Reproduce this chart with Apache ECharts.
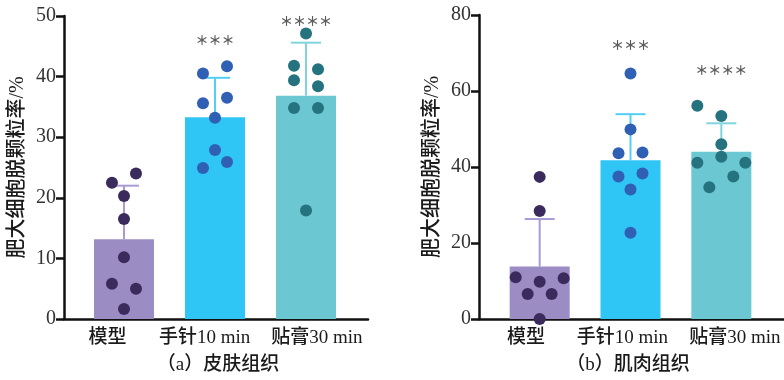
<!DOCTYPE html>
<html>
<head>
<meta charset="utf-8">
<script src="https://cdn.jsdelivr.net/npm/echarts@6/dist/echarts.min.js"></script>
<style>html,body{margin:0;padding:0;background:#fff}#c{width:784px;height:380px}</style>
</head>
<body>
<div id="c"></div>
<script>
// ---- data ----
const categories = ['模型', '手针10 min', '贴膏30 min'];
const panelTitles = ['（a）皮肤组织', '（b）肌肉组织'];
const yName = '肥大细胞脱颗粒率/%';

// panel a: skin
const meanA = [13.15, 33.3, 36.85];
const sdA = [8.85, 6.5, 8.75];
const ptsA_model = [22.5, 24.0, 20.3, 16.5, 10.2, 5.8, 5.0, 1.65];
const jitA_model = [-1, 1, 0, 0, 0, -1, 1, 0];
const ptsA_hand = [40.5, 41.7, 35.6, 36.5, 33.2, 27.9, 24.9, 25.9];
const jitA_hand = [-1, 1, -1, 1, 0, 0, -1, 1];
const ptsA_paste = [47.1, 41.8, 41.2, 39.4, 38.4, 34.8, 34.8, 17.9];
const jitA_paste = [0, -1, 1, -1, 1, -1, 1, 0];
const starsA = ['', '＊＊＊', '＊＊＊＊'];
const starYA = [null, 46.0, 49.2];

// panel b: muscle
const meanB = [13.8, 41.8, 44.0];
const sdB = [12.5, 12.1, 7.5];
const ptsB_model = [37.4, 28.4, 11.0, 10.7, 9.8, 6.6, 6.6, 0.0];
const jitB_model = [0, 0, -2, 2, 0, -1, 1, 0];
const ptsB_hand = [64.6, 49.9, 43.6, 43.8, 37.5, 38.3, 34.1, 22.7];
const jitB_hand = [0, 0, -1, 1, -1, 1, 0, 0];
const ptsB_paste = [56.1, 53.4, 46.0, 41.1, 42.7, 41.1, 37.5, 34.7];
const jitB_paste = [-2, 0, 0, -2, 0, 2, 1, -1];
const starsB = ['', '＊＊＊', '＊＊＊＊'];
const starYB = [null, 72.1, 65.5];

const yTicksA = {min: 0, max: 50, interval: 10};
const yTicksB = {min: 0, max: 80, interval: 20};

// ---- styles / layout ----
const barColors = ['#9c8cc4', '#2fc5f4', '#6bc8d2'];
const dotColors = ['#3b2b5c', '#2f60b4', '#25737e'];
const errColors = ['#a99ad4', '#52cff5', '#7fd4dd'];
const labelShiftA = [-0.18, -0.115, 0.12];
const labelShiftB = [-0.15, -0.09, 0.15];
const serif = '"Liberation Serif", "Noto Serif CJK SC", "Noto Sans CJK SC", serif';
const cjk = '"Liberation Serif", "Noto Sans CJK SC", sans-serif';
const JIT = 0.132;

const chart = echarts.init(document.getElementById('c'), null, {renderer: 'canvas'});

function xAxisCfg(gi, min, max, shift) {
  const pos = categories.map((c, i) => i + shift[i]);
  return {
    type: 'value', gridIndex: gi, min: min, max: max,
    splitLine: {show: false},
    axisLine: {show: true, onZero: false, lineStyle: {color: '#111', width: 2.5}},
    axisTick: {show: true, inside: true, length: 7, customValues: [0, 1, 2], lineStyle: {color: '#111', width: 2.5}},
    axisLabel: {show: true, customValues: pos, showMaxLabel: true, showMinLabel: true, hideOverlap: false,
      margin: 10, fontSize: 19, fontWeight: 500, color: '#1a1a1a', fontFamily: cjk,
      formatter: v => categories[Math.round(v)]}
  };
}
function yAxisCfg(gi, t) {
  return {
    type: 'value', gridIndex: gi, min: t.min, max: t.max, interval: t.interval,
    name: yName, nameLocation: 'middle', nameGap: 36, nameRotate: 90,
    nameTextStyle: {fontSize: 20, fontWeight: 500, color: '#1a1a1a', fontFamily: cjk},
    splitLine: {show: false},
    axisLine: {show: true, onZero: false, lineStyle: {color: '#111', width: 2.5}},
    axisTick: {show: true, length: 8, lineStyle: {color: '#111', width: 2.5}},
    axisLabel: {fontSize: 20, color: '#333', fontFamily: serif, margin: 8}
  };
}

function panelSeries(gi, mean, sd, groups, jits, stars, starY) {
  const s = [];
  s.push({
    type: 'bar', xAxisIndex: gi, yAxisIndex: gi, barWidth: 60,
    data: mean.map((m, i) => ({value: [i, m], itemStyle: {color: barColors[i]}})),
    z: 1
  });
  s.push({
    type: 'custom', xAxisIndex: gi, yAxisIndex: gi, z: 2,
    data: mean.map((m, i) => [i, m, m + sd[i]]),
    renderItem: (params, api) => {
      const i = api.value(0);
      const p0 = api.coord([i, api.value(1)]);
      const p1 = api.coord([i, api.value(2)]);
      const c = errColors[i];
      const st = {stroke: c, lineWidth: 2};
      return {type: 'group', children: [
        {type: 'line', shape: {x1: p0[0], y1: p0[1], x2: p1[0], y2: p1[1]}, style: st},
        {type: 'line', shape: {x1: p1[0] - 15, y1: p1[1], x2: p1[0] + 15, y2: p1[1]}, style: st}
      ]};
    }
  });
  groups.forEach((pts, i) => {
    s.push({
      type: 'scatter', xAxisIndex: gi, yAxisIndex: gi, symbolSize: 12, clip: false, z: 3,
      itemStyle: {color: dotColors[i], opacity: 1},
      data: pts.map((v, k) => [i + jits[i][k] * JIT, v])
    });
  });
  s.push({
    type: 'scatter', xAxisIndex: gi, yAxisIndex: gi, symbolSize: 0, z: 4,
    data: stars.map((t, i) => starY[i] == null ? null : {value: [i, starY[i]], name: t}).filter(d => d),
    label: {show: true, position: 'inside', formatter: p => p.name, fontSize: 13, color: '#333', fontWeight: 'bold',
      fontFamily: '"Noto Sans CJK SC", sans-serif'}
  });
  return s;
}

const option = {
  backgroundColor: '#fff',
  animation: false,
  grid: [
    {left: 64, top: 16, width: 304, height: 303},
    {left: 479, top: 15, width: 305, height: 304}
  ],
  xAxis: [xAxisCfg(0, -0.659, 2.681, labelShiftA), xAxisCfg(1, -0.668, 2.69, labelShiftB)],
  yAxis: [yAxisCfg(0, yTicksA), yAxisCfg(1, yTicksB)],
  series: [
    ...panelSeries(0, meanA, sdA, [ptsA_model, ptsA_hand, ptsA_paste], [jitA_model, jitA_hand, jitA_paste], starsA, starYA),
    ...panelSeries(1, meanB, sdB, [ptsB_model, ptsB_hand, ptsB_paste], [jitB_model, jitB_hand, jitB_paste], starsB, starYB)
  ],
  graphic: [
    {type: 'text', x: 218, y: 365, style: {text: panelTitles[0], fontSize: 19, fontWeight: 500, fill: '#1a1a1a', fontFamily: cjk, textAlign: 'center', textVerticalAlign: 'middle'}},
    {type: 'text', x: 628, y: 365, style: {text: panelTitles[1], fontSize: 19, fontWeight: 500, fill: '#1a1a1a', fontFamily: cjk, textAlign: 'center', textVerticalAlign: 'middle'}}
  ]
};
chart.setOption(option);
</script>
</body>
</html>
